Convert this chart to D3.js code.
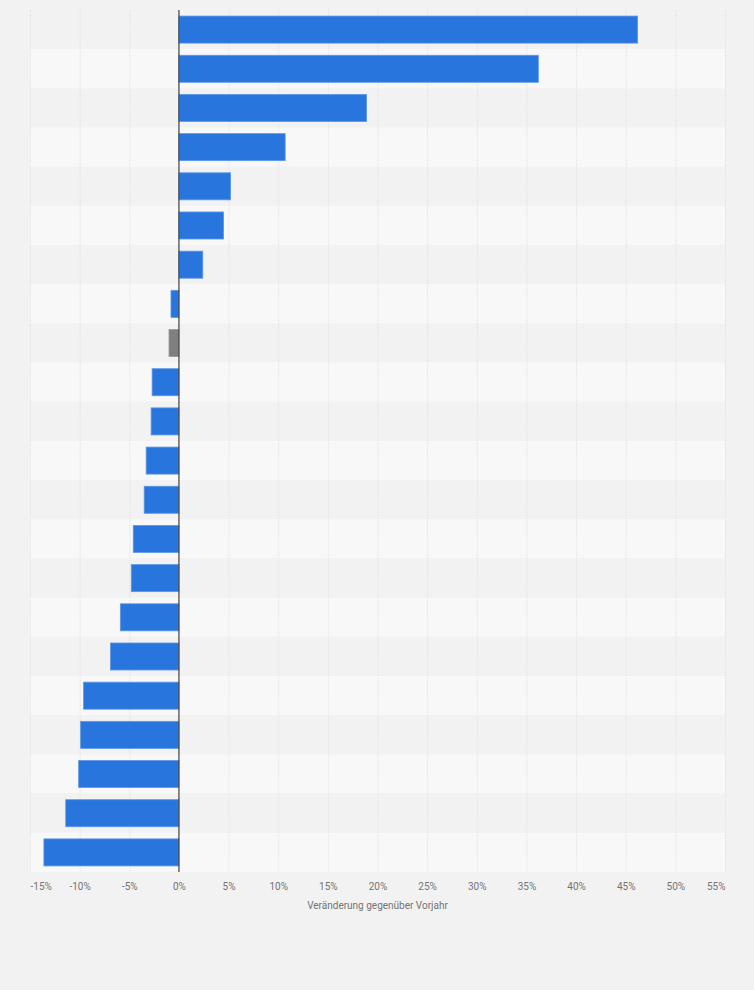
<!DOCTYPE html>
<html>
<head>
<meta charset="utf-8">
<script src="https://cdn.jsdelivr.net/npm/d3@7"></script>
<style>
  html, body { margin: 0; padding: 0; background: #f2f2f2; }
  svg { display: block; }
  text { font-family: Roboto, "Liberation Sans", Arial, sans-serif; }
</style>
</head>
<body>
<svg id="chart" width="754" height="990"></svg>
<script>
// Data (category labels are not shown in the reference chart)
const categories = ["1","2","3","4","5","6","7","8","9","10","11","12","13","14","15","16","17","18","19","20","21","22"];
const values = [46.2, 36.2, 18.9, 10.7, 5.2, 4.5, 2.4, -0.8, -1.0, -2.7, -2.8, -3.3, -3.5, -4.6, -4.8, -5.9, -6.9, -9.6, -9.9, -10.1, -11.4, -13.6];
const highlighted = ["9"]; // grey bar
const tickValues = [-15, -10, -5, 0, 5, 10, 15, 20, 25, 30, 35, 40, 45, 50, 55];
const axisTitle = "Veränderung gegenüber Vorjahr";

const svg = d3.select("#chart");
const W = 754, H = 990;
const plot = { left: 30, right: 725, top: 10, bottom: 872 };

svg.append("rect").attr("width", W).attr("height", H).attr("fill", "#f2f2f2");

const x = d3.scaleLinear().domain([-15, 55]).range([plot.left, plot.right]);
const yBand = d3.scaleBand().domain(categories).range([plot.top, plot.bottom]);
const y = d3.scaleBand().domain(categories).range([plot.top, plot.bottom]).paddingInner(0.31).paddingOuter(0.155);

// alternating row bands
svg.append("g").selectAll("rect").data(categories).join("rect")
  .attr("x", plot.left)
  .attr("y", d => yBand(d))
  .attr("width", plot.right - plot.left)
  .attr("height", yBand.bandwidth())
  .attr("fill", (d, i) => i % 2 === 1 ? "#f8f8f8" : "#f2f2f2");

// gridlines
svg.append("g").selectAll("line").data(tickValues).join("line")
  .attr("x1", d => x(d) + 0.5).attr("x2", d => x(d) + 0.5)
  .attr("y1", plot.top).attr("y2", plot.bottom)
  .attr("stroke", "#dcdcdc")
  .attr("stroke-width", 1)
  .attr("stroke-dasharray", "1,1.5");

// bars
const data = categories.map((c, i) => ({ c, v: values[i] }));
svg.append("g").selectAll("rect").data(data).join("rect")
  .attr("x", d => x(Math.min(0, d.v)))
  .attr("y", d => y(d.c))
  .attr("width", d => Math.abs(x(d.v) - x(0)))
  .attr("height", y.bandwidth())
  .attr("fill", d => highlighted.includes(d.c) ? "#7f7f7f" : "#2876dd")
  .attr("stroke", d => highlighted.includes(d.c) ? "#9a9a9a" : "#5c97e6")
  .attr("stroke-width", 0.8);

// zero line
svg.append("line")
  .attr("x1", x(0)).attr("x2", x(0))
  .attr("y1", plot.top).attr("y2", plot.bottom)
  .attr("stroke", "#444").attr("stroke-width", 1.2);

// x axis labels
const axis = d3.axisBottom(x).tickValues(tickValues).tickSize(0).tickPadding(0)
  .tickFormat(d => d + "%");
const gAxis = svg.append("g").attr("transform", `translate(0, ${plot.bottom + 11})`).call(axis);
gAxis.select(".domain").remove();
gAxis.selectAll("text")
  .attr("fill", "#737373")
  .attr("font-size", "10px")
  .attr("dy", "0.71em")
  .each(function(d) {
    const t = d3.select(this);
    if (d === tickValues[0]) { t.attr("text-anchor", "start").attr("x", plot.left - x(d)); }
    if (d === tickValues[tickValues.length - 1]) { t.attr("text-anchor", "end").attr("x", plot.right - x(d)); }
  });

// axis title
svg.append("text")
  .attr("x", (plot.left + plot.right) / 2)
  .attr("y", 909)
  .attr("text-anchor", "middle")
  .attr("fill", "#737373")
  .attr("font-size", "10px")
  .text(axisTitle);
</script>
</body>
</html>
